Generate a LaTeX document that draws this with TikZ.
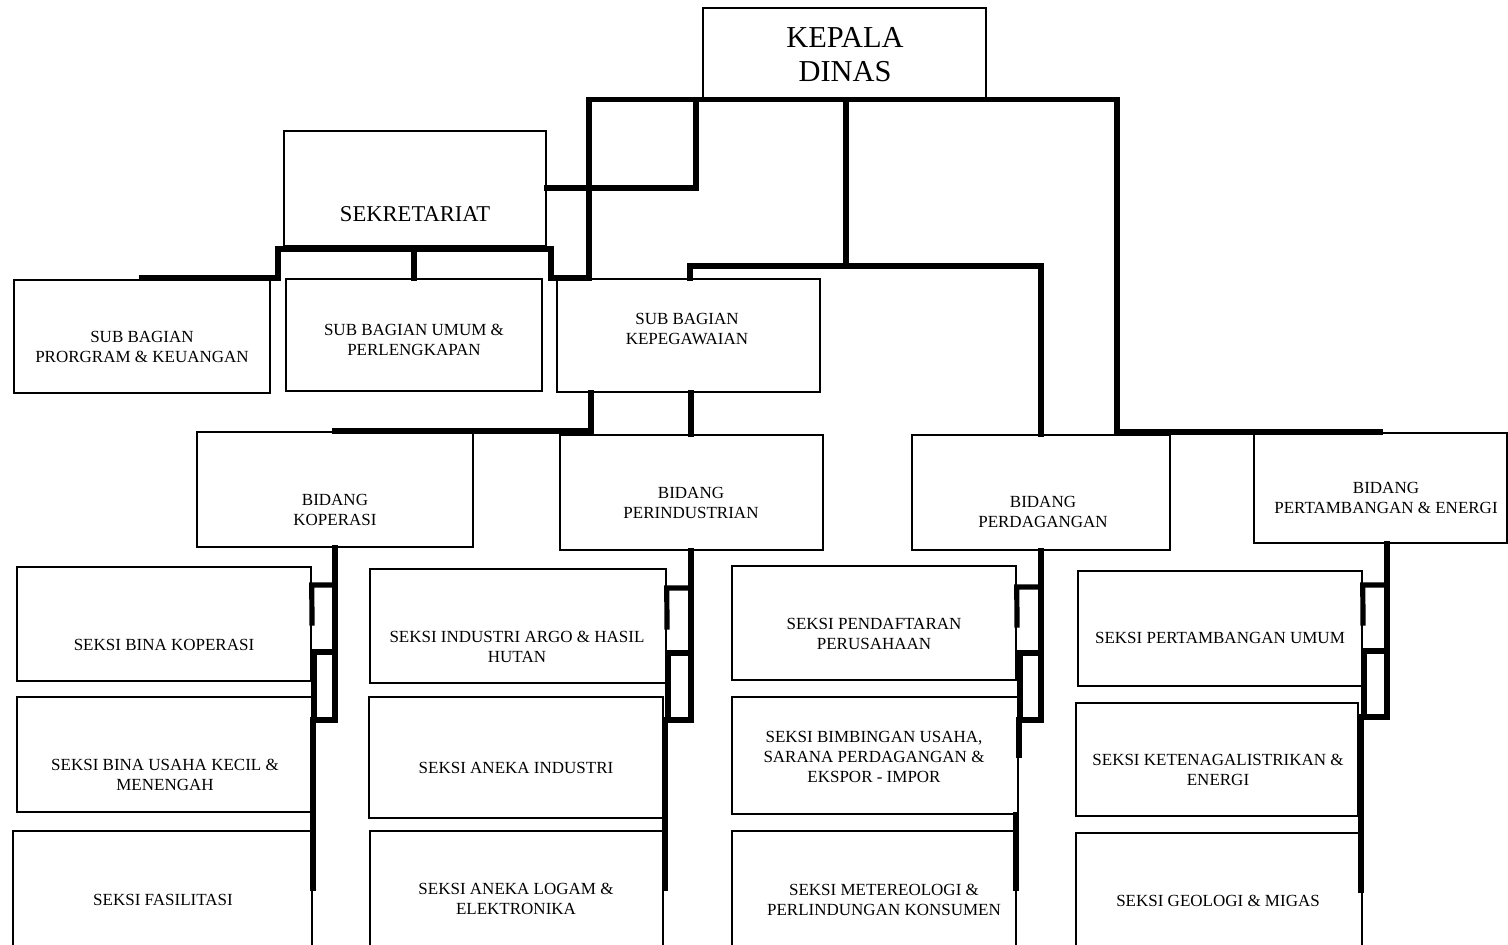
\documentclass[tikz,border=0pt]{standalone}
\usepackage{fontspec}
\setmainfont{Liberation Serif}
\usetikzlibrary{fit}
\begin{document}
\begin{tikzpicture}[x=0.5pt,y=-0.5pt,
  box/.style={draw, line width=0.75pt, inner sep=0pt, fill=none},
  lbl/.style={align=center, inner sep=0pt, font=\fontsize{8.5}{10}\selectfont},
  conn/.style={line width=2.6pt, line cap=rect, line join=miter}]
\clip (0,0) rectangle (1508,944);
\fill[white] (0,0) rectangle (1508,944);

% ---- boxes ----
\node[box, fit={(703,8) (986,99)}] (kd) {};
\node[box, fit={(284,131) (546,246)}] (sek) {};
\node[box, fit={(14,280) (270,393)}] (sbp) {};
\node[box, fit={(286,279) (542,391)}] (sbu) {};
\node[box, fit={(557,279) (820,392)}] (kpg) {};
\node[box, fit={(197,432) (473,547)}] (kop) {};
\node[box, fit={(560,435) (823,550)}] (ind) {};
\node[box, fit={(912,435) (1170,550)}] (dag) {};
\node[box, fit={(1254,433) (1507,543)}] (tam) {};
\node[box, fit={(17,567) (311,681)}] (s11) {};
\node[box, fit={(17,697) (313,812)}] (s12) {};
\node[box, fit={(13,831) (312,970)}] (s13) {};
\node[box, fit={(370,569) (666,683)}] (s21) {};
\node[box, fit={(369,697) (663,818)}] (s22) {};
\node[box, fit={(370,831) (663,970)}] (s23) {};
\node[box, fit={(732,566) (1016,680)}] (s31) {};
\node[box, fit={(732,697) (1018,814)}] (s32) {};
\node[box, fit={(732,831) (1016,970)}] (s33) {};
\node[box, fit={(1078,571) (1362,686)}] (s41) {};
\node[box, fit={(1076,703) (1358,816)}] (s42) {};
\node[box, fit={(1076,833) (1362,970)}] (s43) {};

% ---- texts ----
\node[lbl, font=\fontsize{15.2}{17}\selectfont] (kd-t) at (845,55) {KEPALA\\DINAS};
\node[lbl, font=\fontsize{11.3}{13}\selectfont] (sek-t) at (415,214) {SEKRETARIAT};
\node[lbl] (sbp-t) at (142,347) {SUB BAGIAN\\PRORGRAM \& KEUANGAN};
\node[lbl] (sbu-t) at (414,340) {SUB BAGIAN UMUM \&\\PERLENGKAPAN};
\node[lbl] (kpg-t) at (687,329) {SUB BAGIAN\\KEPEGAWAIAN};
\node[lbl] (kop-t) at (335,510) {BIDANG\\KOPERASI};
\node[lbl] (ind-t) at (691,503) {BIDANG\\PERINDUSTRIAN};
\node[lbl] (dag-t) at (1043,512) {BIDANG\\PERDAGANGAN};
\node[lbl] (tam-t) at (1386,498) {BIDANG\\PERTAMBANGAN \& ENERGI};
\node[lbl] (s11-t) at (164,645) {SEKSI BINA KOPERASI};
\node[lbl] (s12-t) at (165,775) {SEKSI BINA USAHA KECIL \&\\MENENGAH};
\node[lbl] (s13-t) at (163,900) {SEKSI FASILITASI};
\node[lbl] (s21-t) at (517,647) {SEKSI INDUSTRI ARGO \& HASIL\\HUTAN};
\node[lbl] (s22-t) at (516,768) {SEKSI ANEKA INDUSTRI};
\node[lbl] (s23-t) at (516,899) {SEKSI ANEKA LOGAM \&\\ELEKTRONIKA};
\node[lbl] (s31-t) at (874,634) {SEKSI PENDAFTARAN\\PERUSAHAAN};
\node[lbl] (s32-t) at (874,757) {SEKSI BIMBINGAN USAHA,\\SARANA PERDAGANGAN \&\\EKSPOR - IMPOR};
\node[lbl] (s33-t) at (884,900) {SEKSI METEREOLOGI \&\\PERLINDUNGAN KONSUMEN};
\node[lbl] (s41-t) at (1220,638) {SEKSI PERTAMBANGAN UMUM};
\node[lbl] (s42-t) at (1218,770) {SEKSI KETENAGALISTRIKAN \&\\ENERGI};
\node[lbl] (s43-t) at (1218,901) {SEKSI GEOLOGI \& MIGAS};

% ---- connectors from the head ----
\draw[conn] (kd.south -| 589,0) -- (kd.south -| 1117,0);
\draw[conn] (kd.south -| 589,0) -- (kpg.north -| 589,0);
\draw[conn] (kd.south -| 696,0) -- (696,188) -- (sek.east |- 0,188);
\draw[conn] (kd.south -| 846,0) -- (846,266);
\draw[conn] (kpg.north -| 690,0) -- (690,266) -- (dag.north |- 0,266) -- (dag.north);
\draw[conn] (kd.south -| 1117,0) -- (1117,432) -- (tam.north |- 0,432);

% ---- secretariat branches ----
\draw[conn] (sbp.north |- 0,278) -- (278,278) -- (278,249) -- (551,249) -- (551,278) -- (589,278);
\draw[conn] (414,249) -- (sbu.north);

% ---- from kepegawaian to the divisions ----
\draw[conn] (kpg.south -| 591,0) -- (591,431) -- (kop.north |- 0,431);
\draw[conn] (kpg.south -| 691,0) -- (ind.north -| 691,0);

% ---- division to section ladders ----
% koperasi
\draw[conn] (kop.south) -- (335,720) -- (314,720) -- (314,652) -- (335,652);
\draw[conn] (335,585) -- (s11.east |- 0,585) -- (312,623);
\draw[conn] (313,720) -- (313,888);
% perindustrian
\draw[conn] (ind.south -| 691,0) -- (691,720) -- (668,720) -- (668,653) -- (691,653);
\draw[conn] (691,588) -- (s21.east |- 0,588) -- (667,627);
\draw[conn] (665,720) -- (665,888);
% perdagangan
\draw[conn] (dag.south) -- (dag.south |- 0,720) -- (1020,720) -- (1020,653) -- (dag.south |- 0,653);
\draw[conn] (dag.south |- 0,587) -- (s31.east |- 0,587) -- (1017,625);
\draw[conn] (1019,720) -- (1019,755);
\draw[conn] (1016,815) -- (1016,888);
% pertambangan & energi
\draw[conn] (tam.south -| 1387,0) -- (1387,717) -- (1364,717) -- (1364,651) -- (1387,651);
\draw[conn] (1387,585) -- (s41.east |- 0,585) -- (1363,623);
\draw[conn] (1361,717) -- (1361,890);
\end{tikzpicture}
\end{document}
